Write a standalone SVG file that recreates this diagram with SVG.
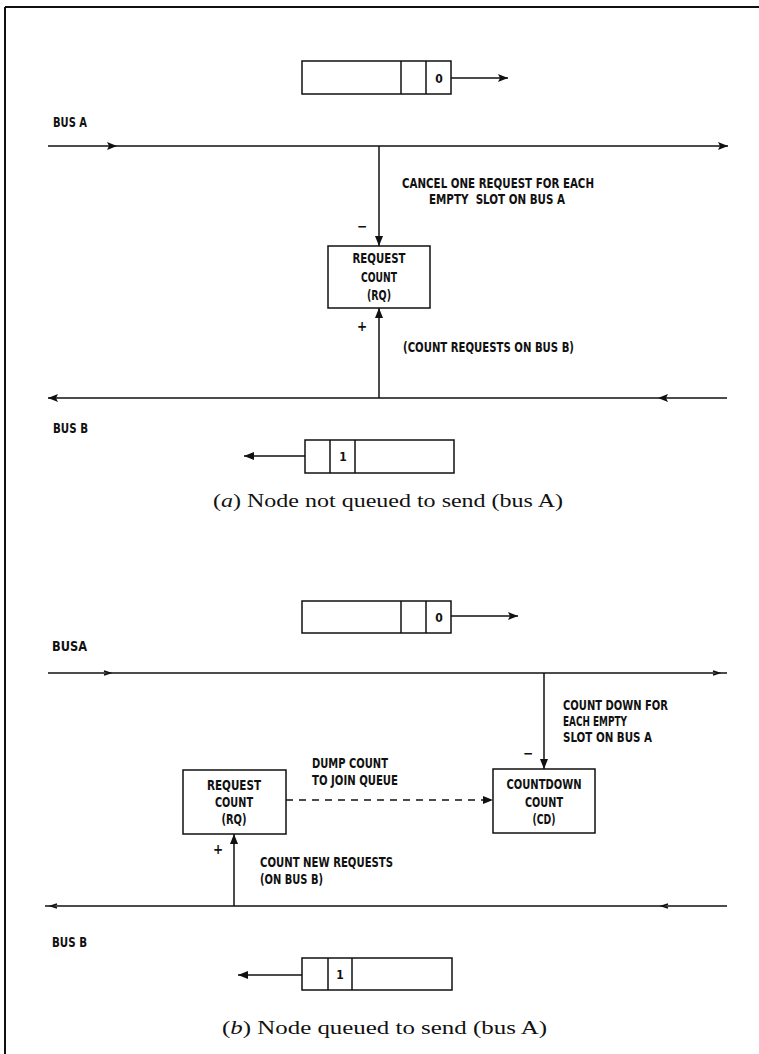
<svg xmlns="http://www.w3.org/2000/svg" width="759" height="1054" viewBox="0 0 759 1054">
<style>
.l{font-family:"Liberation Sans Narrow","DejaVu Sans Condensed","Liberation Sans",sans-serif;font-weight:bold;font-size:13.5px;fill:#111}
.c{text-anchor:middle}
.n{font-family:"Liberation Sans Narrow","DejaVu Sans Condensed","Liberation Sans",sans-serif;font-weight:bold;font-size:12px;fill:#111;text-anchor:middle}
.cap{font-family:"Liberation Serif","Times New Roman",serif;font-size:19px;fill:#111}
.box{fill:#fff;stroke:#111;stroke-width:1.5}
.ln{stroke:#111;stroke-width:1.5;fill:none}
.bus{stroke:#111;stroke-width:1.6;fill:none}
</style>
<defs>
<marker id="arr" viewBox="0 0 10 8" refX="10" refY="4" markerWidth="10" markerHeight="8" markerUnits="userSpaceOnUse" orient="auto">
<path d="M0,0 L10,4 L0,8 Z" fill="#111"/>
</marker>
<marker id="arrS" viewBox="0 0 10 8" refX="10" refY="4" markerWidth="12" markerHeight="8" markerUnits="userSpaceOnUse" orient="auto">
<path d="M0,0 L10,4 L0,8 L2,4 Z" fill="#111"/>
</marker>
</defs>
<g id="frame">
<line x1="5" y1="7" x2="759" y2="7" stroke="#111" stroke-width="2"/>
<line x1="5" y1="7" x2="5" y2="1054" stroke="#111" stroke-width="2"/>
</g>

<g id="slotA1">
<rect class="box" x="302" y="61" width="149" height="33"/>
<line class="ln" x1="401" y1="61" x2="401" y2="94"/>
<line class="ln" x1="426" y1="61" x2="426" y2="94"/>
<text class="n" x="439" y="83">0</text>
</g>
<g id="busA1label"><text class="l" x="53" y="127" textLength="34" lengthAdjust="spacingAndGlyphs">BUS A</text></g>
<g id="rqA">
<rect class="box" x="328" y="246" width="102" height="62"/>
<text class="l c" x="379" y="263" textLength="53" lengthAdjust="spacingAndGlyphs">REQUEST</text>
<text class="l c" x="379" y="282" textLength="36" lengthAdjust="spacingAndGlyphs">COUNT</text>
<text class="l c" x="379" y="300" textLength="24" lengthAdjust="spacingAndGlyphs">(RQ)</text>
</g>
<g id="labelsA">
<text class="l" x="402" y="188" textLength="192" lengthAdjust="spacingAndGlyphs">CANCEL ONE REQUEST FOR EACH</text>
<text class="l" x="429" y="204" textLength="136" lengthAdjust="spacingAndGlyphs" xml:space="preserve">EMPTY  SLOT ON BUS A</text>
<text class="l" x="403" y="352" textLength="171" lengthAdjust="spacingAndGlyphs">(COUNT REQUESTS ON BUS B)</text>
<text class="l" x="357" y="231">−</text>
<text class="l" x="357" y="331">+</text>
</g>
<g id="busB1label"><text class="l" x="53" y="433" textLength="35" lengthAdjust="spacingAndGlyphs">BUS B</text></g>
<g id="slotA2">
<rect class="box" x="305" y="440" width="149" height="33"/>
<line class="ln" x1="330" y1="440" x2="330" y2="473"/>
<line class="ln" x1="355" y1="440" x2="355" y2="473"/>
<text class="n" x="343" y="461">1</text>
</g>
<g id="captionA"><text class="cap" x="213" y="507" textLength="350" lengthAdjust="spacingAndGlyphs">(<tspan font-style="italic">a</tspan>)  Node not queued to send (bus A)</text></g>

<g id="slotB1">
<rect class="box" x="302" y="601" width="149" height="32"/>
<line class="ln" x1="401" y1="601" x2="401" y2="633"/>
<line class="ln" x1="426" y1="601" x2="426" y2="633"/>
<text class="n" x="439" y="622">0</text>
</g>
<g id="busA2label"><text class="l" x="52" y="651" textLength="35" lengthAdjust="spacingAndGlyphs">BUSA</text></g>
<g id="rqB">
<rect class="box" x="183" y="770" width="103" height="64"/>
<text class="l c" x="234" y="790" textLength="54" lengthAdjust="spacingAndGlyphs">REQUEST</text>
<text class="l c" x="234" y="807" textLength="38" lengthAdjust="spacingAndGlyphs">COUNT</text>
<text class="l c" x="234" y="824" textLength="25" lengthAdjust="spacingAndGlyphs">(RQ)</text>
</g>
<g id="cdB">
<rect class="box" x="493" y="769" width="102" height="64"/>
<text class="l c" x="544" y="789" textLength="75" lengthAdjust="spacingAndGlyphs">COUNTDOWN</text>
<text class="l c" x="544" y="807" textLength="38" lengthAdjust="spacingAndGlyphs">COUNT</text>
<text class="l c" x="544" y="824" textLength="23" lengthAdjust="spacingAndGlyphs">(CD)</text>
</g>
<g id="labelsB">
<text class="l" x="563" y="710" textLength="105" lengthAdjust="spacingAndGlyphs">COUNT DOWN FOR</text>
<text class="l" x="563" y="726" textLength="64" lengthAdjust="spacingAndGlyphs">EACH EMPTY</text>
<text class="l" x="563" y="742" textLength="89" lengthAdjust="spacingAndGlyphs">SLOT ON BUS A</text>
<text class="l" x="523" y="758">−</text>
<text class="l" x="312" y="768" textLength="76" lengthAdjust="spacingAndGlyphs">DUMP COUNT</text>
<text class="l" x="312" y="785" textLength="86" lengthAdjust="spacingAndGlyphs">TO JOIN QUEUE</text>
<text class="l" x="260" y="867" textLength="133" lengthAdjust="spacingAndGlyphs">COUNT NEW REQUESTS</text>
<text class="l" x="260" y="884" textLength="63" lengthAdjust="spacingAndGlyphs">(ON BUS B)</text>
<text class="l" x="213" y="854">+</text>
</g>
<g id="busB2label"><text class="l" x="52" y="947" textLength="35" lengthAdjust="spacingAndGlyphs">BUS B</text></g>
<g id="slotB2">
<rect class="box" x="302" y="958" width="150" height="32"/>
<line class="ln" x1="328" y1="958" x2="328" y2="990"/>
<line class="ln" x1="352" y1="958" x2="352" y2="990"/>
<text class="n" x="340" y="979">1</text>
</g>
<g id="captionB"><text class="cap" x="222" y="1034" textLength="325" lengthAdjust="spacingAndGlyphs">(<tspan font-style="italic">b</tspan>)  Node queued to send (bus A)</text></g>

<g id="connectors">
<line class="ln" x1="451" y1="78" x2="508" y2="78" marker-end="url(#arrS)"/>
<line class="bus" x1="48" y1="146" x2="117" y2="146" marker-end="url(#arrS)"/>
<line class="bus" x1="117" y1="146" x2="728" y2="146" marker-end="url(#arrS)"/>
<line class="ln" x1="379" y1="146" x2="379" y2="246" marker-end="url(#arr)"/>
<line class="ln" x1="379" y1="398" x2="379" y2="308" marker-end="url(#arr)"/>
<line class="bus" x1="727" y1="398" x2="658" y2="398" marker-end="url(#arrS)"/>
<line class="bus" x1="658" y1="398" x2="48" y2="398" marker-end="url(#arrS)"/>
<line class="ln" x1="305" y1="456" x2="244" y2="456" marker-end="url(#arr)"/>
<line class="ln" x1="451" y1="616" x2="518" y2="616" marker-end="url(#arrS)"/>
<line class="bus" x1="48" y1="673" x2="727" y2="673"/>
<path d="M104,671 L110,673 L104,675" class="ln" stroke-width="1"/>
<path d="M713,671 L719,673 L713,675" class="ln" stroke-width="1"/>
<line class="ln" x1="544" y1="673" x2="544" y2="769" marker-end="url(#arr)"/>
<line class="ln" x1="286" y1="800" x2="493" y2="800" stroke-dasharray="7,6" marker-end="url(#arr)"/>
<line class="ln" x1="234" y1="906" x2="234" y2="834" marker-end="url(#arr)"/>
<line class="bus" x1="45" y1="906" x2="727" y2="906"/>
<path d="M57,904 L51,906 L57,908" class="ln" stroke-width="1"/>
<path d="M668,904 L662,906 L668,908" class="ln" stroke-width="1"/>
<line class="ln" x1="302" y1="975" x2="238" y2="975" marker-end="url(#arr)"/>
</g>
</svg>
